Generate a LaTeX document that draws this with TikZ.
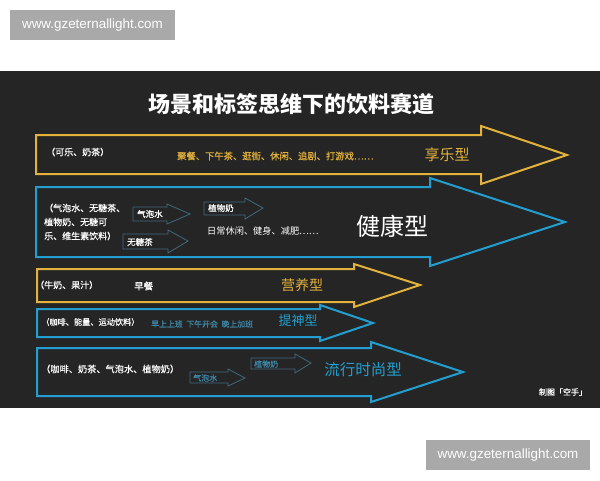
\documentclass[tikz,border=0pt]{standalone}
\usepackage{fontspec}
\setmainfont{Noto Sans CJK SC}
\newfontfamily\cjkthick[FakeBold=0.6]{Noto Sans CJK SC}
\newfontfamily\wmfont{Liberation Sans}
\usepackage{tikz}
\usetikzlibrary{arrows.meta}

\definecolor{panelbg}{HTML}{252525}
\definecolor{goldline}{HTML}{E3B23C}
\definecolor{blueline}{HTML}{229FD0}
\definecolor{dimblue}{HTML}{3F86A6}
\definecolor{smallline}{HTML}{3E6A7C}
\definecolor{wmgray}{HTML}{A9A9A9}

\tikzset{
	bigarrow/.style={line width=2pt, line join=miter},
	smallarrow/.style={draw=smallline, line width=0.8pt, fill=panelbg},
	txt/.style={inner sep=0pt, text=white, font=\cjkthick\fontsize{9}{14}\selectfont},
	wmtxt/.style={inner sep=0pt, text=white, font=\wmfont\fontsize{13.4}{14}\selectfont},
}

\begin{document}
\begin{tikzpicture}[x=1pt, y=-1pt]
	\useasboundingbox (0,0) rectangle (600,480);
	\fill[white] (0,0) rectangle (600,480);
	\fill[panelbg] (0,71) rectangle (600,408);

	% watermarks
	\fill[wmgray] (10,10) rectangle (175,40);
	\fill[wmgray] (426,440) rectangle (590,470);
	\node[wmtxt] (wmtop) at (92.5,25) {www.gzeternallight.com};
	\node[wmtxt] (wmbot) at (508,455) {www.gzeternallight.com};

	% big arrows
	\draw[bigarrow, goldline] (36,135) -- (481,135) -- (481,126) -- (567,155) -- (481,184) -- (481,174) -- (36,174) -- cycle;
	\draw[bigarrow, blueline] (36,187) -- (430,187) -- (430,178) -- (565,222) -- (430,266) -- (430,257) -- (36,257) -- cycle;
	\draw[bigarrow, goldline] (37,269) -- (354,269) -- (354,264) -- (420,285) -- (354,307) -- (354,302) -- (37,302) -- cycle;
	\draw[bigarrow, blueline] (37,309) -- (320,309) -- (320,305) -- (373,323) -- (320,341) -- (320,337) -- (37,337) -- cycle;
	\draw[bigarrow, blueline] (37,348) -- (371,348) -- (371,342) -- (463,372) -- (371,402) -- (371,396) -- (37,396) -- cycle;

	% small arrows
	\draw[smallarrow] (133,207) -- (167,207) -- (167,204) -- (190,214) -- (167,224) -- (167,221) -- (133,221) -- cycle;
	\draw[smallarrow] (123,234) -- (168,234) -- (168,230) -- (188,241) -- (168,253) -- (168,249) -- (123,249) -- cycle;
	\draw[smallarrow] (204,202) -- (245,202) -- (245,198) -- (263,208) -- (245,219) -- (245,215) -- (204,215) -- cycle;
	\draw[smallarrow] (190,372) -- (228,372) -- (228,369) -- (245,378) -- (228,386) -- (228,383) -- (190,383) -- cycle;
	\draw[smallarrow] (251,358) -- (295,358) -- (295,354) -- (311,363) -- (295,373) -- (295,369) -- (251,369) -- cycle;

	\node[txt, font=\bfseries\fontsize{22}{23}\selectfont] (title) at (291,104) {场景和标签思维下的饮料赛道};

	% 享乐型
	\node[txt, anchor=west] (colatea) at (46,152) {（可乐、奶茶）};
	\node[txt, anchor=west, text=goldline, font=\cjkthick\fontsize{9.3}{10}\selectfont] (fun) at (177,156) {聚餐、下午茶、逛街、休闲、追剧、打游戏……};
	\node[txt, text=goldline, font=\fontsize{15}{16}\selectfont] (enjoy) at (447,155) {享乐型};

	% 健康型
	\node[txt, anchor=west, align=left] (healthy) at (44,222) {（气泡水、无糖茶、\\植物奶、无糖可\\乐、维生素饮料）};
	\node[txt, anchor=west, font=\cjkthick\fontsize{8.5}{9}\selectfont] (soda) at (137,214) {气泡水};
	\node[txt, anchor=west, font=\cjkthick\fontsize{8.5}{9}\selectfont] (sugarfree) at (127,242) {无糖茶};
	\node[txt, anchor=west, font=\cjkthick\fontsize{8.5}{9}\selectfont] (plantmilk) at (208,208) {植物奶};
	\node[txt, anchor=west, font=\fontsize{9.2}{10}\selectfont] (daily) at (207,231) {日常休闲、健身、减肥……};
	\node[txt, font=\fontsize{24}{25}\selectfont] (health) at (392,226) {健康型};

	% 营养型
	\node[txt, anchor=west] (milkjuice) at (35,285) {（牛奶、果汁）};
	\node[txt, anchor=west, font=\cjkthick\fontsize{9.5}{10}\selectfont] (breakfast) at (134,286) {早餐};
	\node[txt, text=goldline, font=\fontsize{14}{15}\selectfont] (nutri) at (302,285) {营养型};

	% 提神型
	\node[txt, anchor=west, font=\cjkthick\fontsize{8.2}{9}\selectfont] (coffee) at (41,322) {（咖啡、能量、运动饮料）};
	\node[txt, anchor=west, text=dimblue, font=\cjkthick\fontsize{7.9}{9}\selectfont] (work) at (151,324) {早上上班\ \ 下午开会\ \ 晚上加班};
	\node[txt, text=blueline, font=\fontsize{13}{14}\selectfont] (refresh) at (298,321) {提神型};

	% 流行时尚型
	\node[txt, anchor=west, font=\cjkthick\fontsize{9.2}{10}\selectfont] (trendy) at (41,369) {（咖啡、奶茶、气泡水、植物奶）};
	\node[txt, anchor=west, text=dimblue, font=\cjkthick\fontsize{8}{9}\selectfont] (soda2) at (193,378) {气泡水};
	\node[txt, anchor=west, text=dimblue, font=\cjkthick\fontsize{8}{9}\selectfont] (plantmilk2) at (254,364) {植物奶};
	\node[txt, text=blueline, font=\fontsize{15.5}{16}\selectfont] (fashion) at (363,370) {流行时尚型};

	\node[txt, font=\cjkthick\fontsize{8}{9}\selectfont] (credit) at (563,392) {制图「空手」};
\end{tikzpicture}
\end{document}
